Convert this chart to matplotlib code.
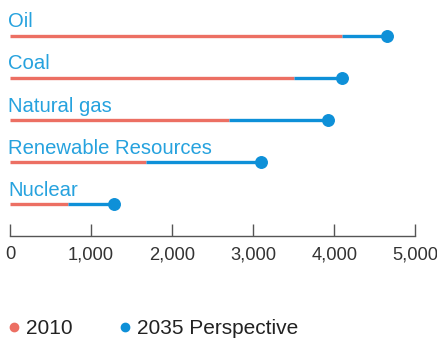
import matplotlib
matplotlib.use("Agg")
import matplotlib.pyplot as plt
from matplotlib.lines import Line2D

plt.rcParams['font.family'] = ['Liberation Sans', 'DejaVu Sans']

sources = ["Oil", "Coal", "Natural gas", "Renewable Resources", "Nuclear"]
values_2010 = [4100, 3500, 2700, 1680, 720]
values_2035 = [4650, 4100, 3920, 3100, 1280]
x_ticks = [0, 1000, 2000, 3000, 4000, 5000]
x_tick_labels = ["0", "1,000", "2,000", "3,000", "4,000", "5,000"]

RED = "#EC6F63"
BLUE = "#0E90D8"
LABEL_BLUE = "#26A2DE"
AXIS_GREY = "#555555"

W, H = 437, 341
fig = plt.figure(figsize=(W / 100, H / 100), dpi=100)
ax = fig.add_axes([10 / W, 1 - 236 / H, (415.3 - 10) / W, 236 / H])

for i, (name, a, b) in enumerate(zip(sources, values_2010, values_2035)):
    ax.plot([0, a], [i, i], color=RED, lw=2.4, solid_capstyle='butt', clip_on=False, zorder=2)
    ax.plot([a, b], [i, i], color=BLUE, lw=2.4, solid_capstyle='butt', clip_on=False, zorder=2)
    ax.plot([b], [i], 'o', color=BLUE, ms=8.3, clip_on=False, zorder=3)
    ax.text(-25, i - 0.2, name, color=LABEL_BLUE, fontsize=14.6, va='baseline', ha='left')

ax.set_xlim(0, 5000)
ax.set_ylim(4.752, -0.847)
ax.set_yticks([])
ax.set_xticks(x_ticks)
ax.set_xticklabels(x_tick_labels, fontsize=13.2, color="#333333")
ax.tick_params(axis='x', direction='in', length=8.5, width=1, color=AXIS_GREY, pad=7.5)
for s in ['top', 'right', 'left']:
    ax.spines[s].set_visible(False)
ax.spines['bottom'].set_color(AXIS_GREY)
ax.spines['bottom'].set_linewidth(1)
ax.patch.set_visible(False)

handles = [
    Line2D([], [], marker='o', ls='none', color=RED, ms=6),
    Line2D([], [], marker='o', ls='none', color=BLUE, ms=6),
]
fig.legend(handles, ["2010", "2035 Perspective"], loc='center left',
           bbox_to_anchor=(-3 / W, 1 - 329 / H), ncol=2, frameon=False,
           fontsize=15, handletextpad=0.1, columnspacing=2.0,
           handlelength=1.0, borderaxespad=0, borderpad=0.3,
           labelcolor="#222222")

fig.savefig("out.png", dpi=100)
